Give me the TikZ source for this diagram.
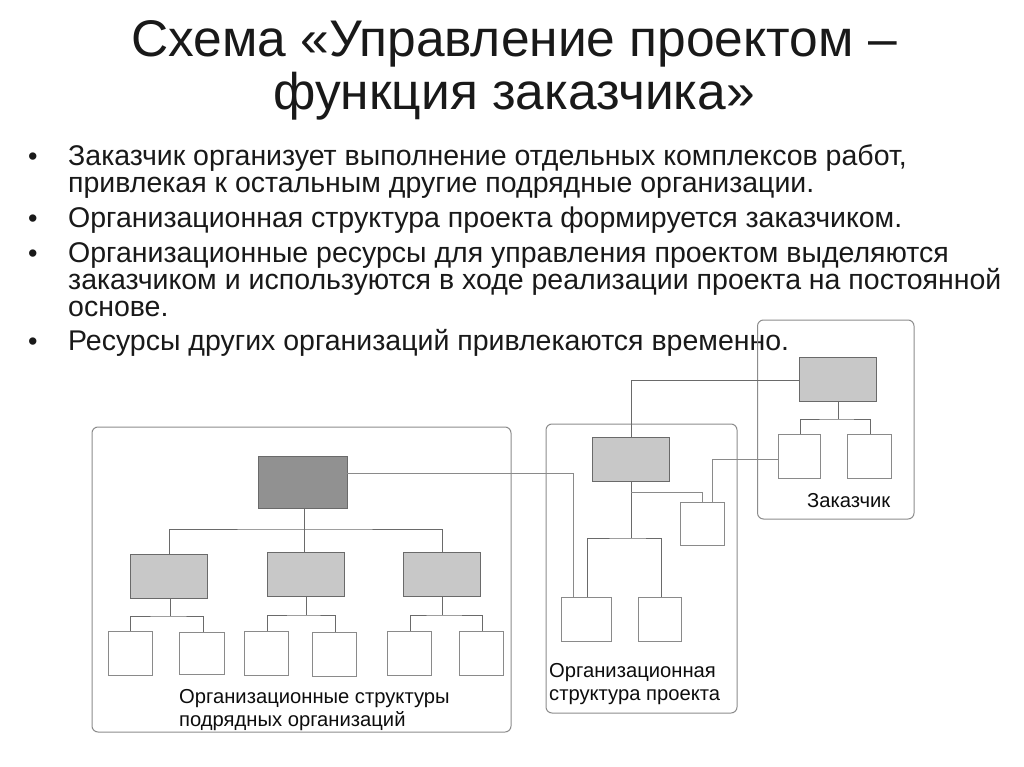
\documentclass[tikz,border=0pt]{standalone}
\usepackage{fontspec}
\setmainfont{Liberation Sans}
\newcommand{\bx}[6]{\node[#6,minimum width={(#4-#2)*1pt},minimum height={(#5-#3)*1pt}] (#1) at ({(#2+#4)/2},{(#3+#5)/2}) {};}
\tikzset{
  x=1pt,y=-1pt,
  leaf/.style={draw=boxline,fill=white,line width=0.9pt,inner sep=0pt,outer sep=0pt},
  midbox/.style={leaf,fill=midgray,draw=darkline},
  topbox/.style={leaf,fill=dkgray,draw=darkline},
  frame/.style={draw=frameline,line width=1pt,rounded corners=6pt,inner sep=0pt,outer sep=0pt,fill=none},
  conn/.style={draw=darkline,line width=0.9pt},
  thin conn/.style={draw=boxline,line width=0.8pt},
  titletext/.style={font=\fontsize{51.5}{51.5}\selectfont,anchor=base,inner sep=0pt,text=black!90},
  bodytext/.style={font=\fontsize{28.5}{28.5}\selectfont,anchor=base west,inner sep=0pt,text=black!90},
  bullet/.style={font=\fontsize{27}{27}\selectfont,anchor=base west,inner sep=0pt,text=black!90},
  label/.style={font=\fontsize{20.2}{20.2}\selectfont,anchor=base west,inner sep=0pt,text=black!95},
}
\definecolor{boxline}{HTML}{8A8A8A}
\definecolor{darkline}{HTML}{6A6A6A}
\definecolor{frameline}{HTML}{8C8C8C}
\definecolor{midgray}{HTML}{C8C8C8}
\definecolor{dkgray}{HTML}{919191}
\begin{document}
\begin{tikzpicture}
\useasboundingbox (0,0) rectangle (1024,767);
\fill[white] (0,0) rectangle (1024,767);
% title
\node[titletext] (t1) at (514,57) {Схема «Управление проектом –};
\node[titletext] (t2) at (514,110) {функция заказчика»};
% body
\foreach \n/\y in {b1/166,b2/228,b3/262,b4/350}{\node[bullet] (\n) at (28,\y) {•};}
\node[bodytext] (l1) at (68,166) {Заказчик организует выполнение отдельных комплексов работ,};
\node[bodytext] (l2) at (68,193) {привлекая к остальным другие подрядные организации.};
\node[bodytext] (l3) at (68,228) {Организационная структура проекта формируется заказчиком.};
\node[bodytext] (l4) at (68,262) {Организационные ресурсы для управления проектом выделяются};
\node[bodytext] (l5) at (68,289) {заказчиком и используются в ходе реализации проекта на постоянной};
\node[bodytext] (l6) at (68,316) {основе.};
\node[bodytext] (l7) at (68,350) {Ресурсы других организаций привлекаются временно.};
% frames
\bx{fa}{92}{427}{511}{732}{frame}
\bx{fb}{546}{424}{737}{713}{frame}
\bx{fc}{757.5}{320}{914}{519}{frame}
% boxes
\bx{A}{258}{456}{347}{508}{topbox}
\bx{M1}{130}{554}{207}{598}{midbox}
\bx{M2}{267}{552}{344}{596}{midbox}
\bx{M3}{403}{552}{480}{596}{midbox}
\bx{L1}{108}{631}{152}{675}{leaf}
\bx{L2}{179}{632}{224}{674}{leaf}
\bx{L3}{244}{631}{288}{675}{leaf}
\bx{L4}{312}{632}{356}{676}{leaf}
\bx{L5}{387}{631}{431}{675}{leaf}
\bx{L6}{459}{631}{503}{675}{leaf}
\bx{P}{592}{437}{669}{481}{midbox}
\bx{Q}{680}{502}{724}{545}{leaf}
\bx{P1}{561}{597}{611}{641}{leaf}
\bx{P2}{638}{597}{681}{641}{leaf}
\bx{C}{799}{357}{876}{401}{midbox}
\bx{C1}{778}{434}{820}{478}{leaf}
\bx{C2}{847}{434}{891}{478}{leaf}
% connectors: contractor organisations
\coordinate (Abus) at (304,529);
\draw[conn] (304,508) -- (304,552);
\draw[conn] (169,554) |- (Abus) -| (442,552);
\coordinate (g1) at (170,616);
\draw[conn] (170,598) -- (g1);
\draw[conn] (130,631) |- (g1) -| (203,632);
\coordinate (g2) at (306,615);
\draw[conn] (306,596) -- (g2);
\draw[conn] (267,631) |- (g2) -| (335,632);
\coordinate (g3) at (442,615);
\draw[conn] (442,596) -- (g3);
\draw[conn] (410,631) |- (g3) -| (482,631);
% connectors: project
\draw[thin conn] (A.east |- 0,473) -- (573,473) -- (573,597);
\draw[conn] (C.west |- 0,380) -- (631,380) -- (631,437);
\coordinate (pbus) at (631,538);
\draw[conn] (631,481) -- (pbus);
\draw[conn] (587,597) |- (pbus) -| (661,597);
\draw[thin conn] (631,492) -- (702,492) -- (702,502);
\draw[thin conn] (C1.west |- 0,459) -- (712,459) -- (712,502);
% connectors: customer
\coordinate (cbus) at (838,419);
\draw[conn] (838,401) -- (cbus);
\draw[conn] (800,434) |- (cbus) -| (870,434);
% labels
\node[label] (tc) at (807,507) {Заказчик};
\node[label] (tp1) at (549,677) {Организационная};
\node[label] (tp2) at (549,700) {структура проекта};
\node[label] (ta1) at (179,703) {Организационные структуры};
\node[label] (ta2) at (179,726) {подрядных организаций};
\end{tikzpicture}
\end{document}
